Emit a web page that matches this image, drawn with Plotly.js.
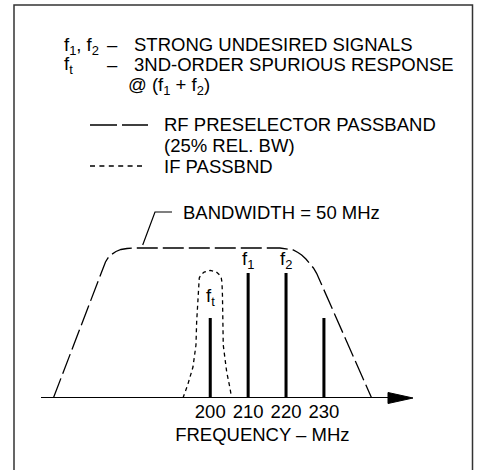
<!DOCTYPE html>
<html>
<head>
<meta charset="utf-8">
<script src="https://cdn.plot.ly/plotly-3.0.1.min.js"></script>
<style>html,body{margin:0;padding:0;background:#fff;}#chart{width:477px;height:470px;}</style>
</head>
<body>
<div id="chart"></div>
<script>
// ---- data ----
var signalFreq = [200, 210, 220, 230];          // MHz
var signalLevel = [0.80, 1.25, 1.25, 0.80];      // relative amplitude
var signalLabel = ['f<sub>t</sub>', 'f<sub>1</sub>', 'f<sub>2</sub>', ''];
var tickFreq = [200, 210, 220, 230];
var tickText = ['200', '210', '220', '230'];

var rfFreq  = [158.6, 171.35, 171.82, 172.35, 173.01, 173.93, 175.12, 176.44, 178.02, 179.68,
               218.39, 220.24, 221.90, 223.14, 224.12, 225.25, 226.31, 227.23, 228.07, 242.59];
var rfLevel = [0, 1.247, 1.31, 1.36, 1.40, 1.435, 1.465, 1.485, 1.495, 1.50,
               1.50, 1.49, 1.48, 1.455, 1.43, 1.39, 1.347, 1.30, 1.247, 0];

var ifFreq  = [192.80, 194.12, 195.44, 196.23, 196.41, 196.62, 196.83, 196.91, 197.10, 197.52, 198.39, 200.0,
               201.61, 202.48, 202.90, 203.09, 203.22, 203.43, 204.33, 205.20, 205.65];
var ifLevel = [0, 0.14, 0.31, 0.53, 0.76, 0.93, 1.08, 1.16, 1.20, 1.23, 1.26, 1.277,
               1.26, 1.23, 1.20, 1.16, 1.03, 0.53, 0.263, 0.10, 0];

// ---- layout helpers (pixel -> paper) ----
var W = 477, H = 470, B = 72, PH = H - B;
function px(x) { return x / W; }
function py(y) { return (PH - y) / PH; }
var FONT = 'Liberation Sans, Arial, Helvetica, sans-serif';
var FS = 18.5;

var traces = [
  {type: 'scatter', mode: 'lines', x: rfFreq, y: rfLevel,
   line: {color: '#000', width: 1.3, dash: '21px,5px'}, hoverinfo: 'skip'},
  {type: 'scatter', mode: 'lines', x: ifFreq, y: ifLevel,
   line: {color: '#000', width: 1.3, dash: '4px,3.5px'}, hoverinfo: 'skip'},
  {type: 'bar', x: signalFreq, y: signalLevel, width: 0.8,
   marker: {color: '#000', line: {width: 0}}, hoverinfo: 'skip'}
];

function txt(t, x, y, anchor) {
  return {text: t, xref: 'paper', yref: 'paper', x: px(x), y: py(y),
          xanchor: anchor || 'left', yanchor: 'middle', showarrow: false,
          font: {family: FONT, size: FS, color: '#000'}};
}

var annotations = [
  txt('f<sub>1</sub>, f<sub>2</sub>', 62, 46),
  txt('–', 112, 45, 'center'),
  txt('STRONG UNDESIRED SIGNALS', 132, 45),
  txt('f<sub>t</sub>', 62, 65),
  txt('–', 112, 64, 'center'),
  txt('3ND-ORDER SPURIOUS RESPONSE', 132, 64),
  txt('@ (f<sub>1</sub> + f<sub>2</sub>)', 126, 86),
  txt('RF PRESELECTOR PASSBAND', 162, 125),
  txt('(25% REL. BW)', 162, 145),
  txt('IF PASSBND', 162, 166),
  txt('BANDWIDTH = 50 MHz', 181, 212)
];
signalFreq.forEach(function (f, i) {
  if (!signalLabel[i]) return;
  annotations.push({text: signalLabel[i], xref: 'x', yref: 'y', x: f, y: signalLevel[i],
    xanchor: 'center', yanchor: 'bottom', yshift: (i === 0 ? 7 : -1), showarrow: false,
    font: {family: FONT, size: FS, color: '#000'}});
});

var shapes = [
  // frame
  {type: 'rect', xref: 'paper', yref: 'paper', x0: px(14), x1: px(472.5), y0: py(5), y1: py(476),
   line: {color: '#333', width: 1.5}, fillcolor: 'rgba(0,0,0,0)'},
  // frequency axis line
  {type: 'line', xref: 'paper', yref: 'y', x0: px(41), x1: px(392), y0: 0, y1: 0,
   line: {color: '#000', width: 2}},
  // arrow head
  {type: 'path', xref: 'paper', yref: 'paper',
   path: 'M ' + px(388) + ',' + py(392.5) + ' L ' + px(413) + ',' + py(398) + ' L ' + px(388) + ',' + py(403.5) + ' Z',
   fillcolor: '#000', line: {color: '#000', width: 1}},
  // bandwidth leader
  {type: 'path', xref: 'paper', yref: 'paper',
   path: 'M ' + px(142.7) + ',' + py(245) + ' L ' + px(155) + ',' + py(212) + ' L ' + px(172) + ',' + py(212),
   line: {color: '#000', width: 1.2}},
  // legend samples
  {type: 'line', xref: 'paper', yref: 'paper', x0: px(90), x1: px(148), y0: py(125), y1: py(125),
   line: {color: '#000', width: 1.3, dash: '27px,5px'}},
  {type: 'line', xref: 'paper', yref: 'paper', x0: px(90), x1: px(142), y0: py(166), y1: py(166),
   line: {color: '#000', width: 1.3, dash: '5px,4.4px'}}
];

var layout = {
  width: W, height: H,
  margin: {l: 0, r: 0, t: 0, b: B, pad: 0},
  paper_bgcolor: '#fff', plot_bgcolor: '#fff',
  showlegend: false,
  font: {family: FONT, size: FS, color: '#000'},
  xaxis: {domain: [0.1, 1], range: [157.10, 270.40], tickvals: tickFreq, ticktext: tickText,
          ticks: '', showline: false, showgrid: false, zeroline: false,
          tickfont: {family: FONT, size: FS, color: '#000'},
          title: {text: 'FREQUENCY – MHz', standoff: 7, font: {family: FONT, size: FS, color: '#000'}},
          fixedrange: true},
  yaxis: {range: [0, 3.98], visible: false, fixedrange: true},
  annotations: annotations,
  shapes: shapes
};

Plotly.newPlot('chart', traces, layout, {staticPlot: true, displayModeBar: false});
</script>
</body>
</html>
